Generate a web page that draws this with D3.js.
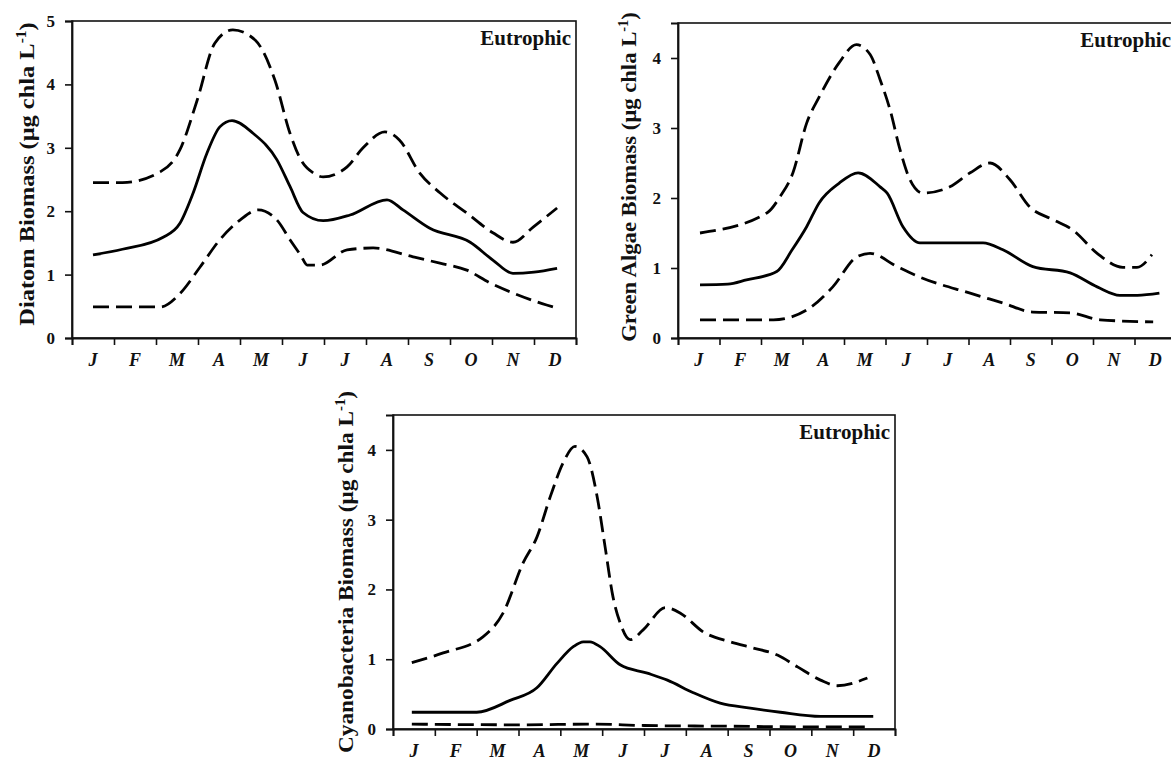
<!DOCTYPE html>
<html>
<head>
<meta charset="utf-8">
<script src="https://cdn.jsdelivr.net/npm/d3@7"></script>
<style>
  body { margin: 0; background: #fff; }
  svg { display: block; }
</style>
</head>
<body>
<script>
// Month labels along the seasonal axis (ticks sit on month boundaries)
const monthLabels = ["J", "F", "M", "A", "M", "J", "J", "A", "S", "O", "N", "D"];
const monthBounds = d3.range(0, 13);

// Each series: [month position (0 = start of Jan, 12 = end of Dec), biomass µg chla/L]
const diatomMean = [[0.5,1.31],[1.2,1.4],[2.17,1.59],[2.57,1.81],[2.88,2.28],[3.21,2.91],[3.52,3.33],[3.81,3.43],[4.31,3.23],[4.88,2.81],[5.19,2.39],[5.5,1.98],[5.98,1.85],[6.62,1.94],[7.5,2.18],[7.88,2.02],[8.52,1.73],[9.48,1.51],[10.02,1.23],[10.5,1.02],[11.0,1.04],[11.55,1.1]];
const diatomUpper = [[0.5,2.45],[1.2,2.45],[2.1,2.62],[2.57,2.97],[2.98,3.75],[3.4,4.65],[3.83,4.86],[4.36,4.7],[4.83,4.07],[5.19,3.23],[5.45,2.81],[5.75,2.6],[5.98,2.54],[6.55,2.7],[6.93,3.0],[7.45,3.25],[7.8,3.12],[8.28,2.6],[8.76,2.29],[9.4,1.97],[10.02,1.66],[10.5,1.51],[10.98,1.75],[11.55,2.05]];
const diatomLower = [[0.5,0.49],[2.1,0.49],[2.57,0.7],[3.05,1.12],[3.52,1.55],[4.0,1.86],[4.43,2.02],[4.88,1.86],[5.19,1.55],[5.45,1.3],[5.6,1.15],[5.9,1.15],[6.55,1.39],[7.17,1.42],[8.12,1.28],[8.76,1.18],[9.4,1.07],[9.95,0.87],[10.5,0.71],[11.3,0.52],[11.5,0.48]];

const greenMean = [[0.53,0.76],[1.2,0.77],[1.65,0.83],[2.38,0.95],[2.75,1.26],[3.1,1.59],[3.4,1.93],[3.88,2.21],[4.34,2.36],[4.87,2.16],[5.04,2.07],[5.42,1.59],[5.83,1.36],[7.35,1.36],[7.83,1.26],[8.55,1.02],[9.45,0.93],[10.1,0.73],[10.65,0.61],[11.07,0.61],[11.6,0.64]];
const greenUpper = [[0.53,1.5],[2.15,1.79],[2.46,2.02],[2.77,2.36],[3.1,3.07],[3.4,3.44],[3.88,3.93],[4.3,4.19],[4.63,4.05],[4.87,3.69],[5.11,3.26],[5.35,2.69],[5.59,2.26],[5.9,2.07],[6.55,2.16],[7.04,2.36],[7.52,2.5],[8.0,2.26],[8.48,1.87],[9.04,1.69],[9.52,1.54],[10.1,1.21],[10.72,1.01],[11.06,1.01],[11.42,1.19]];
const greenLower = [[0.53,0.26],[2.3,0.26],[3.1,0.4],[3.73,0.73],[4.31,1.16],[4.63,1.21],[5.28,1.02],[5.83,0.87],[7.04,0.64],[7.83,0.5],[8.55,0.37],[9.45,0.36],[10.17,0.26],[11.45,0.23]];

const cyanoMean = [[0.45,0.24],[2.0,0.24],[2.8,0.41],[3.44,0.59],[3.92,0.94],[4.31,1.18],[4.55,1.25],[4.71,1.25],[4.95,1.18],[5.43,0.92],[6.08,0.8],[6.56,0.7],[7.18,0.52],[7.82,0.37],[8.54,0.3],[9.26,0.24],[10.22,0.18],[11.48,0.18]];
const cyanoUpper = [[0.45,0.95],[1.2,1.09],[2.15,1.32],[2.63,1.66],[3.11,2.38],[3.44,2.75],[3.76,3.33],[4.07,3.82],[4.35,4.05],[4.64,3.9],[4.88,3.33],[5.07,2.61],[5.26,1.89],[5.43,1.52],[5.67,1.28],[5.98,1.42],[6.51,1.74],[6.87,1.66],[7.42,1.39],[8.06,1.25],[8.61,1.16],[9.19,1.06],[9.67,0.89],[10.22,0.7],[10.62,0.62],[11.34,0.73]];
const cyanoLower = [[0.45,0.07],[3.0,0.06],[4.8,0.07],[6.0,0.05],[8.0,0.04],[10.0,0.03],[11.4,0.03]];

const diatomTicks = [0, 1, 2, 3, 4, 5];
const greenTicks = [0, 1, 2, 3, 4];
const cyanoTicks = [0, 1, 2, 3, 4];

const panels = [
  { name: "Diatom", yMax: 5, yTicks: diatomTicks, box: { l: 72, r: 576, t: 21, b: 338 },
    series: [diatomUpper, diatomMean, diatomLower], label: "Eutrophic",
    title: { x: 34, y: 174, sx: 1.11 } },
  { name: "Green Algae", yMax: 4.5, yTicks: greenTicks, box: { l: 678, r: 1176, t: 23, b: 338 },
    series: [greenUpper, greenMean, greenLower], label: "Eutrophic",
    title: { x: 636, y: 177, sx: 1.03 } },
  { name: "Cyanobacteria", yMax: 4.5, yTicks: cyanoTicks, box: { l: 393, r: 895, t: 415, b: 729 },
    series: [cyanoUpper, cyanoMean, cyanoLower], label: "Eutrophic",
    title: { x: 353, y: 572, sx: 1.06 } }
];

const serif = "'Liberation Serif', 'Times New Roman', serif";

const svg = d3.select("body").append("svg")
  .attr("width", 1171).attr("height", 761)
  .style("background", "#fff");

panels.forEach(p => {
  const b = p.box;
  const x = d3.scaleLinear().domain([0, 12]).range([b.l, b.r]);
  const y = d3.scaleLinear().domain([0, p.yMax]).range([b.b, b.t]);
  const g = svg.append("g");

  // frame
  g.append("rect")
    .attr("x", b.l).attr("y", b.t)
    .attr("width", b.r - b.l).attr("height", b.b - b.t)
    .attr("fill", "none").attr("stroke", "#111").attr("stroke-width", 1.6);

  // y axis
  const yAxis = d3.axisLeft(y).tickValues(p.yTicks).tickSize(7).tickPadding(10)
    .tickFormat(d3.format("d"));
  const ya = g.append("g").attr("transform", `translate(${b.l},0)`).call(yAxis);
  ya.select(".domain").attr("stroke", "#111").attr("stroke-width", 1.8);
  ya.selectAll(".tick line").attr("stroke", "#111").attr("stroke-width", 1.6);
  ya.selectAll(".tick text")
    .attr("font-family", serif).attr("font-size", 17).attr("font-weight", "bold")
    .attr("fill", "#111");

  // x axis: ticks on month boundaries, labels centred in each month
  const xAxis = d3.axisBottom(x).tickValues(monthBounds).tickSize(7).tickFormat("");
  const xa = g.append("g").attr("transform", `translate(0,${b.b})`).call(xAxis);
  xa.select(".domain").attr("stroke", "#111").attr("stroke-width", 1.8);
  xa.selectAll(".tick line").attr("stroke", "#111").attr("stroke-width", 1.6);

  g.selectAll("text.month").data(monthLabels).join("text")
    .attr("class", "month")
    .attr("x", (d, i) => x(i + 0.5))
    .attr("y", b.b + 28)
    .attr("text-anchor", "middle")
    .attr("font-family", serif).attr("font-size", 18)
    .attr("font-weight", "bold").attr("font-style", "italic")
    .attr("fill", "#111")
    .text(d => d);

  // curves: upper bound dashed, mean solid, lower bound dashed
  const line = d3.line().x(d => x(d[0])).y(d => y(d[1])).curve(d3.curveMonotoneX);
  p.series.forEach((s, i) => {
    g.append("path")
      .datum(s)
      .attr("d", line)
      .attr("fill", "none")
      .attr("stroke", "#000")
      .attr("stroke-width", 2.8)
      .attr("stroke-dasharray", i === 1 ? null : "16,7");
  });

  // trophic-state tag
  g.append("text")
    .attr("x", b.r - 5).attr("y", b.t + 24)
    .attr("text-anchor", "end")
    .attr("font-family", serif).attr("font-size", 21).attr("font-weight", "bold")
    .attr("fill", "#111")
    .text(p.label);

  // rotated y-axis title with superscript unit
  const t = g.append("text")
    .attr("transform", `translate(${p.title.x},${p.title.y}) rotate(-90) scale(${p.title.sx},1)`)
    .attr("text-anchor", "middle")
    .attr("font-family", serif).attr("font-size", 22).attr("font-weight", "bold")
    .attr("fill", "#111");
  t.append("tspan").text(`${p.name} Biomass (μg chla L`);
  t.append("tspan").attr("font-size", 14).attr("dy", -8).text("-1");
  t.append("tspan").attr("dy", 8).text(")");
});
</script>
</body>
</html>
